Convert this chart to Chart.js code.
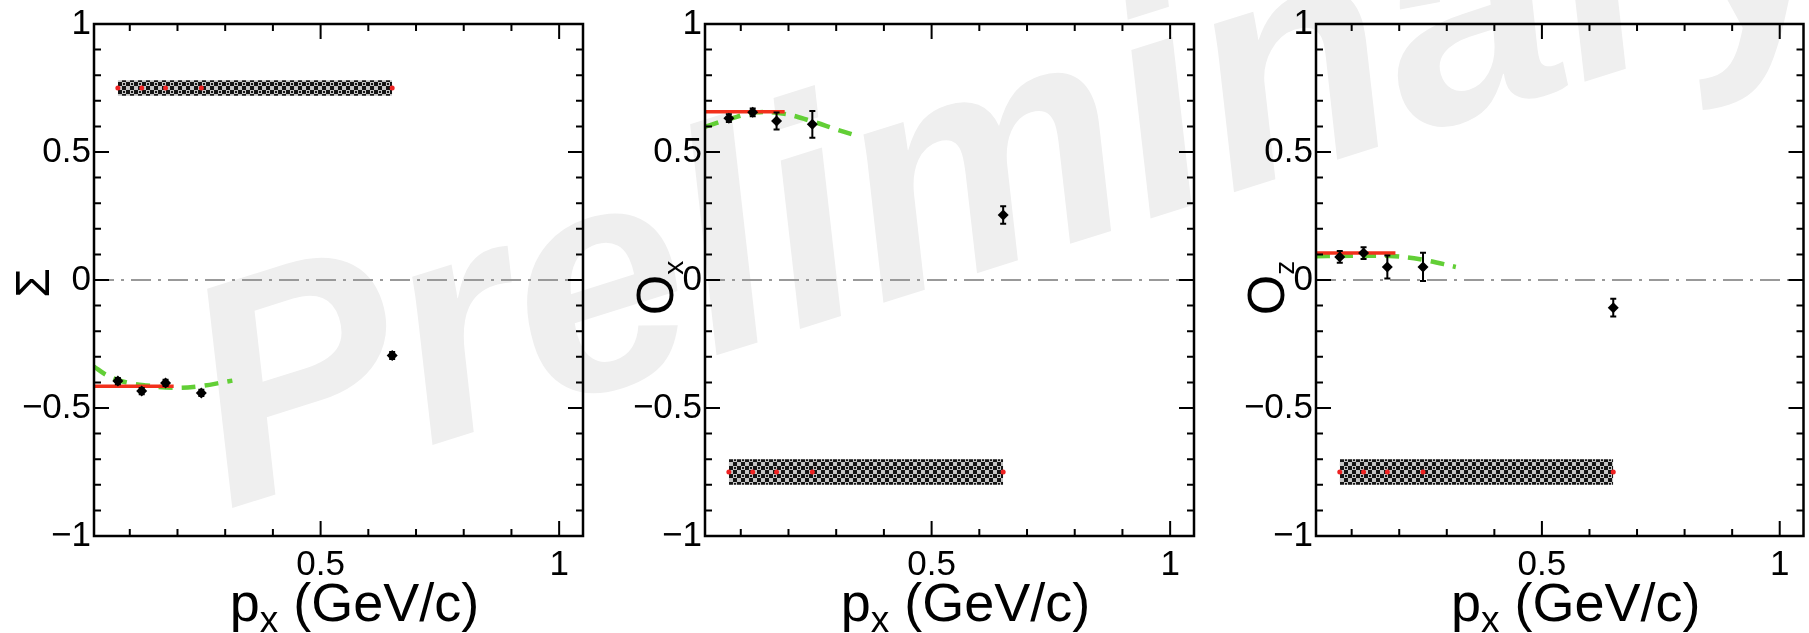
<!DOCTYPE html>
<html>
<head>
<meta charset="utf-8">
<script src="https://cdn.jsdelivr.net/npm/chart.js@4.4.0/dist/chart.umd.min.js"></script>
<style>
  html, body { margin: 0; padding: 0; background: #fff; }
  #page { position: relative; width: 1809px; height: 633px; overflow: hidden; background: #fff; }
  #watermark {
    position: absolute; left: 147px; top: 256px;
    font: italic bold 315px "Liberation Sans", Arial, sans-serif;
    color: #efefef; white-space: nowrap; line-height: 1;
    transform-origin: 0 0; transform: rotate(-17.5deg);
  }
  canvas { position: absolute; top: 0; }
</style>
</head>
<body>
<div id="page">
  <div id="watermark">Preliminary</div>
  <canvas id="sigmaChart" width="611" height="633" style="left:0px"></canvas>
  <canvas id="oxChart" width="611" height="633" style="left:611px"></canvas>
  <canvas id="ozChart" width="587" height="633" style="left:1222px"></canvas>
</div>
<script>
// momentum bins (GeV/c)
const pxValues = [0.075, 0.125, 0.175, 0.25, 0.65];
const xLabelTicks = [0.5, 1];
const yLabelTicks = [-1, -0.5, 0, 0.5, 1];

// Sigma
const sigmaValues = [-0.395, -0.434, -0.402, -0.441, -0.295];
const sigmaErrors = [0.012, 0.012, 0.012, 0.012, 0.014];
const sigmaFitLevel = -0.415;
const sigmaCurveX = [0.025, 0.05, 0.075, 0.1, 0.135, 0.19, 0.246, 0.3, 0.315];
const sigmaCurveY = [-0.338, -0.37, -0.39, -0.403, -0.412, -0.421, -0.415, -0.398, -0.393];
const sigmaBandLevel = 0.75;
const sigmaBandHalf = 0.03;

// Ox
const oxValues = [0.632, 0.655, 0.621, 0.608, 0.254];
const oxErrors = [0.015, 0.015, 0.033, 0.052, 0.034];
const oxFitLevel = 0.657;
const oxCurveX = [0.025, 0.036, 0.075, 0.133, 0.191, 0.249, 0.299, 0.338];
const oxCurveY = [0.598, 0.605, 0.628, 0.655, 0.649, 0.62, 0.589, 0.566];
const oxBandLevel = -0.75;
const oxBandHalf = 0.05;

// Oz
const ozValues = [0.09, 0.105, 0.051, 0.051, -0.108];
const ozErrors = [0.023, 0.023, 0.045, 0.055, 0.035];
const ozFitLevel = 0.105;
const ozCurveX = [0.025, 0.075, 0.125, 0.19, 0.25, 0.319];
const ozCurveY = [0.093, 0.094, 0.095, 0.093, 0.079, 0.051];
const ozBandLevel = -0.75;
const ozBandHalf = 0.05;

const fitEnd = 0.192;
const xMin = 0.025, xMax = 1.05;

const FONT = '"Liberation Sans", Arial, Helvetica, sans-serif';

function fmt(v) {
  return v < 0 ? '\u2212' + Math.abs(v) : String(v);
}

function makeHatch() {
  const c = document.createElement('canvas');
  c.width = 8; c.height = 8;
  const g = c.getContext('2d');
  g.fillStyle = '#c4c4c4';
  g.fillRect(0, 0, 8, 8);
  g.fillStyle = '#151515';
  // small ring of dots, ROOT-like fill style
  [[2, 0], [4, 0], [0, 2], [6, 2], [0, 4], [6, 4], [2, 6], [4, 6], [3, 3]].forEach(([x, y]) => g.fillRect(x, y, 2, 2));
  return g.createPattern(c, 'repeat');
}

// error bars for the data points
const errorBars = {
  id: 'errorBars',
  afterDatasetsDraw(chart) {
    const { ctx, scales: { x, y } } = chart;
    chart.data.datasets.forEach(ds => {
      if (!ds.errors) return;
      ctx.save();
      ctx.strokeStyle = '#000';
      ctx.lineWidth = 2;
      ds.data.forEach((pt, i) => {
        const px = x.getPixelForValue(pt.x);
        const top = y.getPixelForValue(pt.y + ds.errors[i]);
        const bot = y.getPixelForValue(pt.y - ds.errors[i]);
        ctx.beginPath();
        ctx.moveTo(px, top); ctx.lineTo(px, bot);
        ctx.moveTo(px - 3, top); ctx.lineTo(px + 3, top);
        ctx.moveTo(px - 3, bot); ctx.lineTo(px + 3, bot);
        ctx.stroke();
      });
      ctx.restore();
    });
  }
};

// ROOT-style frame with inner ticks on every side
const frameTicks = {
  id: 'frameTicks',
  afterDraw(chart) {
    const { ctx, chartArea: a, scales: { x, y } } = chart;
    ctx.save();
    ctx.strokeStyle = '#000';
    ctx.lineWidth = 2;
    ctx.beginPath();
    for (let i = 1; i <= 10; i++) {
      const px = x.getPixelForValue(i / 10);
      const len = i % 5 === 0 ? 15 : 7;
      ctx.moveTo(px, a.bottom); ctx.lineTo(px, a.bottom - len);
      ctx.moveTo(px, a.top); ctx.lineTo(px, a.top + len);
    }
    for (let i = -9; i <= 9; i++) {
      const py = y.getPixelForValue(i / 10);
      const len = i % 5 === 0 ? 15 : 7;
      ctx.moveTo(a.left, py); ctx.lineTo(a.left + len, py);
      ctx.moveTo(a.right, py); ctx.lineTo(a.right - len, py);
    }
    ctx.stroke();
    ctx.lineWidth = 2.5;
    ctx.strokeRect(a.left, a.top, a.right - a.left, a.bottom - a.top);
    ctx.restore();
  }
};

// axis titles with subscripts
const axisTitles = {
  id: 'axisTitles',
  afterDraw(chart, args, opts) {
    const { ctx, chartArea: a } = chart;
    ctx.save();
    ctx.fillStyle = '#000';
    ctx.textBaseline = 'alphabetic';
    // x title: p_x (GeV/c)
    const big = '54px ' + FONT, small = '37px ' + FONT;
    ctx.font = big;
    const wp = ctx.measureText('p').width;
    const wr = ctx.measureText(' (GeV/c)').width;
    ctx.font = small;
    const wx = ctx.measureText('x').width;
    let sx = (a.left + a.right) / 2 + 16 - (wp + wx + wr) / 2;
    const base = 621;
    ctx.font = big; ctx.fillText('p', sx, base);
    ctx.font = small; ctx.fillText('x', sx + wp, base + 11);
    ctx.font = big; ctx.fillText(' (GeV/c)', sx + wp + wx, base);
    // y title, rotated
    ctx.translate(opts.yx, opts.yy);
    ctx.rotate(-Math.PI / 2);
    ctx.font = opts.size + 'px ' + FONT;
    const wm = ctx.measureText(opts.main).width;
    ctx.font = '28px ' + FONT;
    const ws = opts.sub ? ctx.measureText(opts.sub).width : 0;
    const s0 = -(wm + ws) / 2;
    ctx.font = opts.size + 'px ' + FONT;
    ctx.fillText(opts.main, s0, 18);
    if (opts.sub) {
      ctx.font = '28px ' + FONT;
      ctx.fillText(opts.sub, s0 + wm, 28);
    }
    ctx.restore();
  }
};

const hatch = makeHatch();

function buildChart(canvasId, values, errors, fitLevel, curveX, curveY, bandLevel, bandHalf, padRight, title) {
  const points = pxValues.map((x, i) => ({ x, y: values[i] }));
  const curve = curveX.map((x, i) => ({ x, y: curveY[i] }));
  const bandFirst = pxValues[0], bandLast = pxValues[pxValues.length - 1];
  return new Chart(document.getElementById(canvasId), {
    type: 'scatter',
    data: {
      datasets: [
        {
          data: points,
          errors: errors,
          pointStyle: 'rectRot',
          pointRadius: 5.5,
          backgroundColor: '#000',
          borderColor: '#000',
          borderWidth: 0
        },
        {
          data: [{ x: xMin, y: fitLevel }, { x: fitEnd, y: fitLevel }],
          showLine: true,
          pointRadius: 0,
          borderColor: '#f2301c',
          borderWidth: 3.5
        },
        {
          data: curve,
          showLine: true,
          pointRadius: 0,
          borderColor: '#62cf36',
          borderWidth: 4.5,
          borderDash: [14, 9],
          tension: 0.4
        },
        {
          data: pxValues.map(x => ({ x, y: bandLevel })),
          pointRadius: 2.5,
          backgroundColor: '#ee2222',
          borderWidth: 0
        },
        {
          data: [{ x: bandFirst, y: bandLevel + bandHalf }, { x: bandLast, y: bandLevel + bandHalf }],
          showLine: true,
          pointRadius: 0,
          borderWidth: 0,
          borderColor: 'rgba(0,0,0,0)',
          backgroundColor: hatch,
          fill: '+1'
        },
        {
          data: [{ x: bandFirst, y: bandLevel - bandHalf }, { x: bandLast, y: bandLevel - bandHalf }],
          showLine: true,
          pointRadius: 0,
          borderWidth: 0,
          borderColor: 'rgba(0,0,0,0)'
        },
        {
          data: [{ x: xMin, y: 0 }, { x: xMax, y: 0 }],
          showLine: true,
          pointRadius: 0,
          borderColor: '#999999',
          borderWidth: 2,
          borderDash: [20, 7, 3, 7]
        }
      ]
    },
    options: {
      responsive: false,
      animation: false,
      layout: { padding: { top: 21, right: padRight, left: 0, bottom: 0 } },
      plugins: {
        legend: { display: false },
        tooltip: { enabled: false },
        axisTitles: title
      },
      scales: {
        x: {
          type: 'linear',
          min: xMin,
          max: xMax,
          grid: { display: false, drawTicks: false },
          border: { display: false },
          afterBuildTicks: s => { s.ticks = xLabelTicks.map(v => ({ value: v })); },
          afterFit: s => { s.height = 97; },
          ticks: {
            padding: 8,
            color: '#000',
            maxRotation: 0,
            autoSkip: false,
            font: { family: FONT, size: 35 },
            callback: v => fmt(v)
          }
        },
        y: {
          type: 'linear',
          min: -1,
          max: 1,
          grid: { display: false, drawTicks: false },
          border: { display: false },
          afterBuildTicks: s => { s.ticks = yLabelTicks.map(v => ({ value: v })); },
          afterFit: s => { s.width = 94; },
          ticks: {
            padding: 3,
            color: '#000',
            autoSkip: false,
            font: { family: FONT, size: 35 },
            callback: v => fmt(v)
          }
        }
      }
    },
    plugins: [errorBars, frameTicks, axisTitles]
  });
}

buildChart('sigmaChart', sigmaValues, sigmaErrors, sigmaFitLevel, sigmaCurveX, sigmaCurveY,
  sigmaBandLevel, sigmaBandHalf, 28, { main: '\u03a3', sub: '', size: 48, yx: 31, yy: 283 });
buildChart('oxChart', oxValues, oxErrors, oxFitLevel, oxCurveX, oxCurveY,
  oxBandLevel, oxBandHalf, 28, { main: 'O', sub: 'x', size: 52, yx: 44, yy: 288 });
buildChart('ozChart', ozValues, ozErrors, ozFitLevel, ozCurveX, ozCurveY,
  ozBandLevel, ozBandHalf, 3, { main: 'O', sub: 'z', size: 52, yx: 44, yy: 288 });
</script>
</body>
</html>
